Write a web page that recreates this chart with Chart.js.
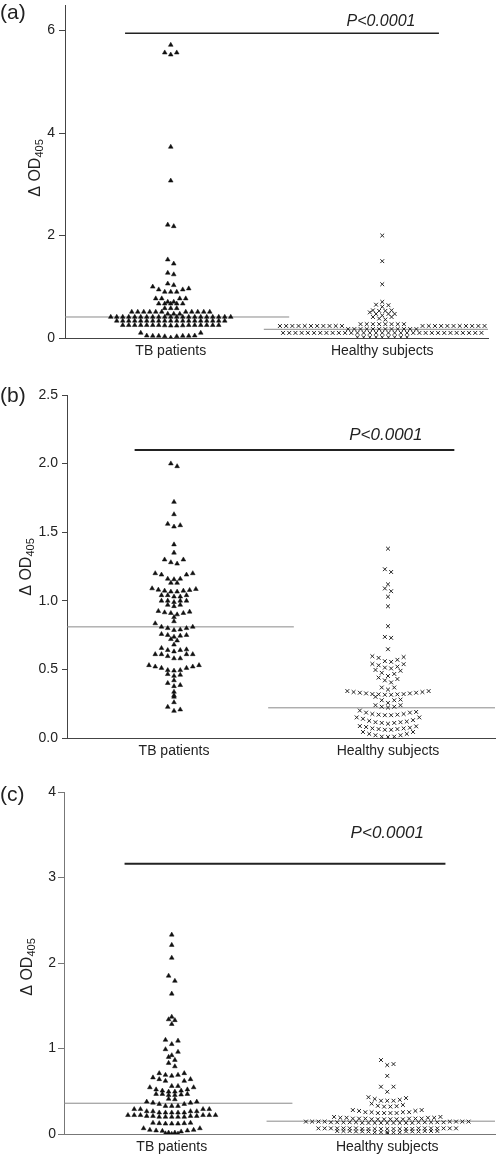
<!DOCTYPE html>
<html><head><meta charset="utf-8">
<script src="https://cdn.jsdelivr.net/npm/chart.js@4.4.1/dist/chart.umd.min.js"></script>
<style>
html,body{margin:0;padding:0;background:#fff;}
body{width:500px;height:1158px;position:relative;overflow:hidden;}
canvas{position:absolute;left:0;}
</style></head><body>
<canvas id="ca" width="500" height="360" style="top:0px"></canvas>
<canvas id="cb" width="500" height="400" style="top:360px"></canvas>
<canvas id="cc" width="500" height="386" style="top:770px"></canvas>
<script>
// ---------------- DATA ----------------
const categories = ['TB patients', 'Healthy subjects'];

// Panel (a): values grouped in the horizontal rows of the column scatter
const tbA = [
  [0.005, 0.03, 0.03, 0.04, 0.04, 0.04, 0.04, 0.045, 0.045, 0.10, 0.10],
  [0.24, 0.24, 0.245, 0.245, 0.25, 0.25, 0.25, 0.25, 0.25, 0.25, 0.25, 0.25, 0.25, 0.25, 0.25, 0.25, 0.25],
  [0.335, 0.335, 0.335, 0.335, 0.335, 0.335, 0.335, 0.335, 0.335, 0.335, 0.335, 0.335, 0.335, 0.335, 0.335, 0.335, 0.335, 0.335, 0.335],
  [0.41, 0.41, 0.41, 0.41, 0.41, 0.41, 0.41, 0.41, 0.41, 0.41, 0.41, 0.41, 0.41, 0.41, 0.41, 0.41, 0.41, 0.41, 0.41, 0.41, 0.41],
  [0.47, 0.47, 0.47, 0.51, 0.51, 0.51, 0.51, 0.51, 0.51, 0.51, 0.51, 0.51, 0.51, 0.51],
  [0.58, 0.58, 0.58],
  [0.67, 0.67, 0.67, 0.67, 0.67],
  [0.705, 0.705, 0.77, 0.77, 0.77, 0.77],
  [0.90, 0.90, 0.90, 0.945, 0.945, 0.965, 1.0],
  [1.03, 1.06],
  [1.24, 1.27],
  [1.45, 1.53],
  [2.18, 2.21],
  [3.07],
  [3.73],
  [5.53, 5.57, 5.57],
  [5.72]
];
const healthyA = [
  [0.015, 0.015, 0.015, 0.015, 0.015, 0.015, 0.015, 0.015, 0.015],
  [0.10, 0.10, 0.10, 0.10, 0.10, 0.10, 0.10, 0.10, 0.10, 0.10, 0.10, 0.10, 0.10, 0.10, 0.10, 0.10, 0.10,
   0.10, 0.10, 0.10, 0.10, 0.10, 0.10, 0.10, 0.10, 0.10, 0.10, 0.10, 0.10, 0.10, 0.10, 0.10, 0.10],
  [0.175, 0.175, 0.175, 0.175, 0.175, 0.175, 0.175, 0.175, 0.175, 0.175, 0.175, 0.175,
   0.235, 0.235, 0.235, 0.235, 0.235, 0.235, 0.235, 0.235, 0.235, 0.235, 0.235,
   0.235, 0.235, 0.235, 0.235, 0.235, 0.235, 0.235, 0.235, 0.235, 0.235, 0.235],
  [0.27, 0.27, 0.27, 0.27, 0.27, 0.27, 0.27, 0.27],
  [0.36, 0.38, 0.41, 0.41],
  [0.44, 0.47, 0.47, 0.47, 0.50],
  [0.53, 0.53, 0.54, 0.54],
  [0.61, 0.64, 0.65],
  [0.705],
  [1.05],
  [1.5],
  [2.0]
];
const mediansA = [0.41, 0.17];
const yTicksA = [0, 2, 4, 6];
const yTickLabelsA = ['0', '2', '4', '6'];

// Panel (b)
const tbB = [
  [0.197, 0.207, 0.226],
  [0.26],
  [0.30],
  [0.31],
  [0.336],
  [0.377, 0.385, 0.40],
  [0.42],
  [0.452, 0.46, 0.465],
  [0.49, 0.494, 0.494, 0.51, 0.51, 0.52, 0.52, 0.53, 0.53],
  [0.58, 0.58, 0.596, 0.61, 0.61, 0.61, 0.61],
  [0.63, 0.64, 0.64, 0.645, 0.655],
  [0.68],
  [0.71, 0.72],
  [0.737, 0.745, 0.75, 0.75, 0.757],
  [0.786, 0.79, 0.80, 0.80, 0.81, 0.81, 0.835],
  [0.85],
  [0.88],
  [0.90, 0.91, 0.91, 0.915, 0.92, 0.925],
  [0.96, 0.97, 0.97],
  [0.99, 1.0, 1.0, 1.0, 1.0],
  [1.03, 1.03, 1.04, 1.04, 1.04],
  [1.066, 1.066, 1.073, 1.073, 1.078, 1.08, 1.085, 1.09],
  [1.13, 1.13],
  [1.156, 1.16, 1.16, 1.19, 1.19, 1.20, 1.20],
  [1.27, 1.28, 1.30, 1.30],
  [1.35],
  [1.41],
  [1.54, 1.55, 1.56],
  [1.63],
  [1.72],
  [1.98, 2.0]
];
const healthyB = [
  [0.008, 0.01, 0.01, 0.02, 0.02, 0.03, 0.03, 0.044, 0.044],
  [0.06, 0.06, 0.065, 0.065, 0.07, 0.07, 0.075, 0.08, 0.085, 0.087],
  [0.104, 0.11, 0.11, 0.115, 0.115, 0.12, 0.125, 0.13, 0.14, 0.15, 0.15],
  [0.166, 0.166, 0.17, 0.17, 0.175, 0.175, 0.185, 0.185, 0.19, 0.20],
  [0.222, 0.228, 0.228, 0.239, 0.239],
  [0.256, 0.275, 0.275, 0.28, 0.30],
  [0.315, 0.315, 0.318, 0.318, 0.32, 0.32, 0.325, 0.325, 0.33, 0.33, 0.335, 0.335, 0.342, 0.342],
  [0.353, 0.368, 0.368],
  [0.405, 0.42, 0.43, 0.44],
  [0.452, 0.467, 0.475, 0.49, 0.496],
  [0.507, 0.513, 0.52, 0.53, 0.538, 0.54],
  [0.555, 0.56, 0.57, 0.584, 0.59, 0.596],
  [0.647],
  [0.73, 0.737],
  [0.815],
  [0.96],
  [1.03],
  [1.07, 1.09],
  [1.12],
  [1.21, 1.23],
  [1.38]
];
const mediansB = [0.81, 0.22];
const yTicksB = [0, 0.5, 1, 1.5, 2, 2.5];
const yTickLabelsB = ['0.0', '0.5', '1.0', '1.5', '2.0', '2.5'];

// Panel (c)
const tbC = [
  [0.0, 0.003, 0.006],
  [0.015, 0.015, 0.028, 0.035, 0.04, 0.04, 0.047, 0.047, 0.066, 0.066],
  [0.12, 0.12, 0.12, 0.125, 0.125, 0.13, 0.13],
  [0.20, 0.20, 0.20, 0.20, 0.20, 0.21, 0.21, 0.21, 0.21, 0.22, 0.22, 0.22, 0.22, 0.22, 0.22],
  [0.25, 0.25, 0.25, 0.25, 0.25, 0.265, 0.265, 0.265, 0.265, 0.29, 0.29, 0.29, 0.29],
  [0.327, 0.327, 0.327, 0.35, 0.35, 0.365, 0.365, 0.377, 0.377],
  [0.405, 0.41],
  [0.455, 0.455, 0.46, 0.467, 0.467, 0.467],
  [0.494, 0.494, 0.506, 0.506, 0.52, 0.52, 0.545, 0.545],
  [0.56, 0.56, 0.62, 0.62, 0.64, 0.64, 0.66],
  [0.68, 0.69, 0.69, 0.71, 0.71],
  [0.79, 0.83],
  [0.865, 0.90],
  [0.92, 0.96, 0.99],
  [1.05, 1.09, 1.10],
  [1.285],
  [1.33, 1.34],
  [1.37],
  [1.64],
  [1.79, 1.85],
  [2.06],
  [2.21],
  [2.33]
];
const healthyC = [
  [0.005],
  [0.02, 0.02, 0.02, 0.02, 0.02, 0.03, 0.03, 0.03, 0.03, 0.03, 0.03, 0.035, 0.035, 0.035, 0.035, 0.035, 0.035],
  [0.06, 0.06, 0.06, 0.06, 0.06, 0.06, 0.06, 0.06, 0.06,
   0.066, 0.066, 0.066, 0.066, 0.066, 0.066, 0.066, 0.066, 0.066, 0.066, 0.066, 0.066, 0.066, 0.066],
  [0.13, 0.13, 0.13, 0.13, 0.13, 0.13, 0.13, 0.13, 0.13,
   0.137, 0.137, 0.137, 0.137, 0.137, 0.137, 0.137, 0.137, 0.137, 0.137,
   0.145, 0.145, 0.145, 0.145, 0.145, 0.145, 0.145, 0.145],
  [0.172, 0.172, 0.172, 0.172, 0.172, 0.172, 0.18, 0.18, 0.18, 0.18, 0.18, 0.18, 0.19, 0.19, 0.19, 0.19, 0.20, 0.20],
  [0.245, 0.245, 0.245, 0.245, 0.255, 0.255, 0.255, 0.255, 0.27, 0.27, 0.28, 0.28],
  [0.32, 0.32, 0.325, 0.33, 0.34, 0.355],
  [0.389, 0.389, 0.389, 0.40, 0.41, 0.42, 0.43],
  [0.494, 0.553, 0.553],
  [0.68],
  [0.806, 0.818, 0.865]
];
const mediansC = [0.36, 0.15];
const yTicksC = [0, 1, 2, 3, 4];
const yTickLabelsC = ['0', '1', '2', '3', '4'];

const pLabel = 'P<0.0001';

// ---------------- STYLE / LAYOUT ----------------
const FONT = "'Liberation Sans', Arial, Helvetica, sans-serif";
Chart.defaults.font.family = FONT;
Chart.defaults.color = '#222';

const panels = [
  { id: 'ca', label: '(a)', labelY: 13, tb: tbA, hs: healthyA, med: mediansA,
    ticks: yTicksA, tickLabels: yTickLabelsA, ymax: 6.5,
    L: { top: 3, right: 12, yW: 65, xH: 22 }, tickLen: 6, tickPad: 4,
    spacing: [6.0, 6.2], sig: { x0: -0.216, x1: 1.268, y: 5.95, w: 1.5 },
    p: { x: 0.994, y: 6.17, size: 16 }, axis: '#444',
    title: { x: 40, y: 168 } },
  { id: 'cb', label: '(b)', labelY: 36, tb: tbB, hs: healthyB, med: mediansB,
    ticks: yTicksB, tickLabels: yTickLabelsB, ymax: 2.5,
    L: { top: 35, right: 2, yW: 67, xH: 22 }, tickLen: 5, tickPad: 4,
    spacing: [6.3, 6.3], sig: { x0: -0.184, x1: 1.31, y: 2.1, w: 2 },
    p: { x: 0.99, y: 2.21, size: 17 }, axis: '#444',
    title: { x: 31, y: 207 } },
  { id: 'cc', label: '(c)', labelY: 25, tb: tbC, hs: healthyC, med: mediansC,
    ticks: yTicksC, tickLabels: yTickLabelsC, ymax: 4,
    L: { top: 22, right: 2, yW: 64, xH: 22 }, tickLen: 6, tickPad: 2,
    spacing: [6.3, 6.3], sig: { x0: -0.219, x1: 1.27, y: 3.16, w: 2 },
    p: { x: 1.0, y: 3.52, size: 17 }, axis: '#777',
    title: { x: 32, y: 197 } }
];
const MEDIAN_HALF = 0.56;

// Column-scatter layout: each row of values is spread horizontally,
// lowest values nearest the column centre.
function spreadRows(rows, center, spacingPx, pxPerUnit) {
  const pts = [];
  rows.forEach(row => {
    const vals = row.slice().sort((a, b) => a - b);
    const n = vals.length;
    const slots = [];
    for (let i = 0; i < n; i++) slots.push(i - (n - 1) / 2);
    slots.sort((a, b) => (Math.abs(a) - Math.abs(b)) || (b - a));
    vals.forEach((v, k) => pts.push({ x: center + slots[k] * spacingPx / pxPerUnit, y: v }));
  });
  return pts;
}

const textPlugin = {
  id: 'panelText',
  afterDraw(chart, args, o) {
    const ctx = chart.ctx, xs = chart.scales.x, ys = chart.scales.y;
    ctx.save();
    ctx.fillStyle = '#222';
    ctx.font = `21px ${FONT}`;
    ctx.textAlign = 'left'; ctx.textBaseline = 'middle';
    ctx.fillText(o.label, 0, o.labelY);
    ctx.font = `italic ${o.p.size}px ${FONT}`;
    ctx.textAlign = 'center'; ctx.textBaseline = 'middle';
    ctx.fillText(pLabel, xs.getPixelForValue(o.p.x), ys.getPixelForValue(o.p.y));
    // y-axis title: Δ OD405 (405 as subscript)
    ctx.translate(o.title.x, o.title.y);
    ctx.rotate(-Math.PI / 2);
    const main = '\u0394 OD', sub = '405';
    ctx.font = `16px ${FONT}`;
    const w1 = ctx.measureText(main).width;
    ctx.font = `11px ${FONT}`;
    const w2 = ctx.measureText(sub).width;
    const start = -(w1 + w2) / 2;
    ctx.textAlign = 'left'; ctx.textBaseline = 'alphabetic';
    ctx.font = `16px ${FONT}`;
    ctx.fillText(main, start, 0);
    ctx.font = `11px ${FONT}`;
    ctx.fillText(sub, start + w1, 3);
    ctx.restore();
  }
};

panels.forEach(P => {
  const L = P.L;
  const ppuX = (500 - L.yW - L.right) / 2;
  const tbPts = spreadRows(P.tb, 0, P.spacing[0], ppuX);
  const hsPts = spreadRows(P.hs, 1, P.spacing[1], ppuX);
  new Chart(document.getElementById(P.id), {
    type: 'scatter',
    data: {
      datasets: [
        { label: categories[0], data: tbPts, pointStyle: 'triangle', pointRadius: 2.7,
          backgroundColor: '#111', borderColor: '#111', borderWidth: 0.5, showLine: false },
        { label: categories[1], data: hsPts, pointStyle: 'crossRot', pointRadius: 2.7,
          backgroundColor: '#222', borderColor: '#222', borderWidth: 1, showLine: false },
        { type: 'line', label: 'median TB', data: [{ x: -MEDIAN_HALF, y: P.med[0] }, { x: MEDIAN_HALF, y: P.med[0] }],
          borderColor: '#8a8a8a', borderWidth: 1, pointRadius: 0 },
        { type: 'line', label: 'median HS', data: [{ x: 1 - MEDIAN_HALF, y: P.med[1] }, { x: 1 + MEDIAN_HALF, y: P.med[1] }],
          borderColor: '#8a8a8a', borderWidth: 1, pointRadius: 0 },
        { type: 'line', label: 'significance', data: [{ x: P.sig.x0, y: P.sig.y }, { x: P.sig.x1, y: P.sig.y }],
          borderColor: '#222', borderWidth: P.sig.w, pointRadius: 0 }
      ]
    },
    options: {
      responsive: false, animation: false, events: [],
      layout: { padding: { top: L.top, right: L.right, left: 0, bottom: 0 } },
      plugins: { legend: { display: false }, tooltip: { enabled: false },
        panelText: { label: P.label, labelY: P.labelY, p: P.p, title: P.title } },
      scales: {
        x: { type: 'linear', min: -0.5, max: 1.5,
          afterBuildTicks: s => { s.ticks = [{ value: 0 }, { value: 1 }]; },
          afterFit: s => { s.height = L.xH; s.paddingLeft = 0; s.paddingRight = 0; },
          ticks: { callback: (v, i) => categories[i], padding: 5, autoSkip: false, maxRotation: 0,
            font: { size: 14, family: FONT }, color: '#222' },
          grid: { display: false, drawTicks: false },
          border: { display: true, color: P.axis, width: 1 } },
        y: { type: 'linear', min: 0, max: P.ymax,
          afterBuildTicks: s => { s.ticks = P.ticks.map(v => ({ value: v })); },
          afterFit: s => { s.width = L.yW; s.paddingTop = 0; s.paddingBottom = 0; },
          ticks: { callback: (v, i) => P.tickLabels[i], padding: P.tickPad,
            font: { size: 14, family: FONT }, color: '#222' },
          grid: { drawOnChartArea: false, drawTicks: true, tickLength: P.tickLen, color: P.axis, lineWidth: 1 },
          border: { display: true, color: P.axis, width: 1 } }
      }
    },
    plugins: [textPlugin]
  });
});
</script>
</body></html>
